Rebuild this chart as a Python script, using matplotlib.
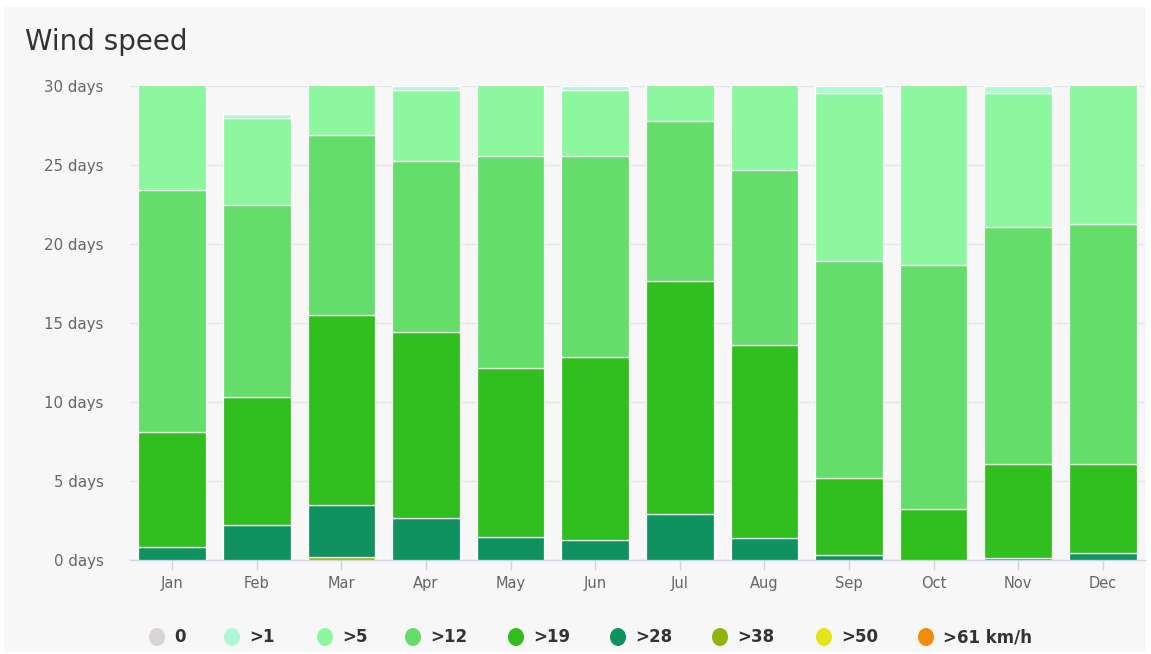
import matplotlib
matplotlib.use("Agg")
import matplotlib.pyplot as plt
import numpy as np
from matplotlib.patches import Rectangle, Ellipse

months = ["Jan", "Feb", "Mar", "Apr", "May", "Jun", "Jul", "Aug", "Sep", "Oct", "Nov", "Dec"]
series_names = ["0", ">1", ">5", ">12", ">19", ">28", ">38", ">50", ">61 km/h"]
colors = ["#d9d4d6", "#adf9d6", "#8cf79f", "#64dd6a", "#31be1f", "#0f9160", "#8db50a", "#e4e41a", "#f28c0a"]

calm   = [0, 0, 0, 0, 0, 0, 0, 0, 0, 0, 0, 0]
gt1    = [0, 0.25, 0, 0.25, 0, 0.25, 0, 0, 0.45, 0, 0.45, 0]
gt5    = [7.6, 5.5, 4.1, 4.5, 5.4, 4.2, 3.2, 6.3, 10.65, 12.3, 8.45, 9.75]
gt12   = [15.3, 12.2, 11.4, 10.85, 13.45, 12.7, 10.15, 11.1, 13.7, 15.5, 15.05, 15.2]
gt19   = [7.3, 8.1, 12.0, 11.75, 10.7, 11.6, 14.75, 12.2, 4.9, 3.2, 5.95, 5.6]
gt28   = [0.8, 2.2, 3.3, 2.65, 1.45, 1.25, 2.9, 1.4, 0.3, 0.0, 0.1, 0.45]
gt38   = [0, 0, 0.2, 0, 0, 0, 0, 0, 0, 0, 0, 0]
gt50   = [0, 0, 0, 0, 0, 0, 0, 0, 0, 0, 0, 0]
gt61   = [0, 0, 0, 0, 0, 0, 0, 0, 0, 0, 0, 0]

yticks = [0, 5, 10, 15, 20, 25, 30]
ytick_labels = ["0 days", "5 days", "10 days", "15 days", "20 days", "25 days", "30 days"]

W, H = 1151, 654
fig = plt.figure(figsize=(W / 100, H / 100), dpi=100, facecolor="white")
# panel background
fig.patches.append(Rectangle((4 / W, 2 / H), 1142 / W, 645 / H, transform=fig.transFigure,
                             facecolor="#f7f7f7", edgecolor="none", zorder=-10))

ax = fig.add_axes([130 / W, 1 - 560 / H, 1015 / W, 474 / H])
ax.set_facecolor("none")
ax.set_zorder(5)

x = np.arange(len(months))
stack_order = [gt61, gt50, gt38, gt28, gt19, gt12, gt5, gt1, calm]
stack_colors = colors[::-1]
bottom = np.zeros(len(months))
for vals, c in zip(stack_order, stack_colors):
    v = np.array(vals, dtype=float)
    ax.bar(x, v, bottom=bottom, width=0.8, color=c, edgecolor="white", linewidth=0.9, zorder=3)
    bottom += v

ax.set_xlim(-0.5, len(months) - 0.5)
ax.set_ylim(0, 30)
ax.set_yticks(yticks)
ax.set_yticklabels(ytick_labels)
ax.set_xticks(x)
ax.set_xticklabels(months)
ax.grid(axis="y", color="#e6e6e6", linewidth=1.0, zorder=0)
ax.set_axisbelow(True)
for s in ["top", "right", "left"]:
    ax.spines[s].set_visible(False)
ax.spines["bottom"].set_color("#ccd6eb")
ax.spines["bottom"].set_linewidth(1.0)
ax.tick_params(axis="y", length=0, pad=19, labelsize=10.8, labelcolor="#666666")
ax.tick_params(axis="x", length=7, width=1, color="#ccd6eb", pad=4.5, labelsize=10.5, labelcolor="#666666")

fig.text(25 / W, 1 - 42 / H, "Wind speed", fontsize=20, color="#333333",
         family="DejaVu Sans", va="center", ha="left")

# legend
leg_x = [157, 232, 325, 413, 516, 618, 720, 824, 926]
ly = 1 - 637 / H
for px, name, c in zip(leg_x, series_names, colors):
    fig.patches.append(Ellipse((px / W, ly), 16 / W, 18 / H, transform=fig.transFigure,
                               facecolor=c, edgecolor="none", zorder=5))
    fig.text((px + 17) / W, ly, name, fontsize=12, fontweight="bold", color="#333333",
             va="center", ha="left", family="DejaVu Sans")

fig.savefig("out.png", dpi=100, facecolor=fig.get_facecolor())
